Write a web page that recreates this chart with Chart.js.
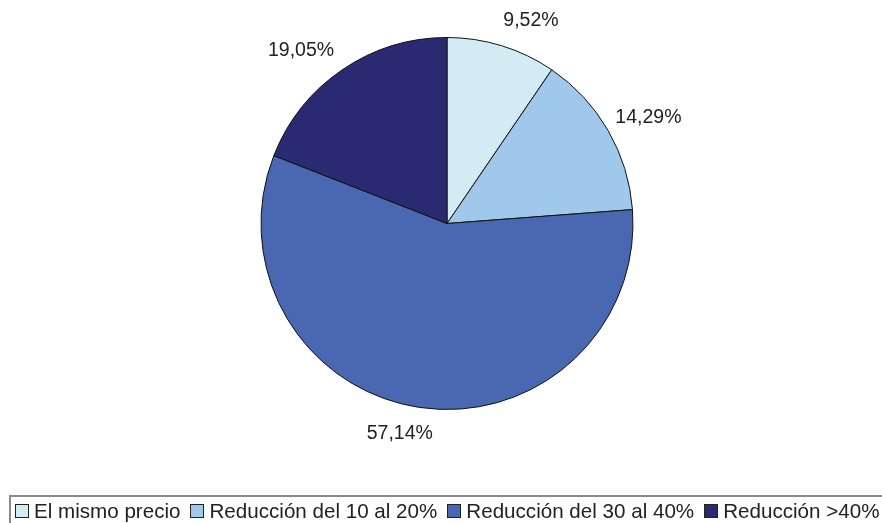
<!DOCTYPE html>
<html>
<head>
<meta charset="utf-8">
<script src="https://cdn.jsdelivr.net/npm/chart.js@4/dist/chart.umd.min.js"></script>
<style>
  html, body { margin: 0; padding: 0; background: #fff; }
  #wrap { position: relative; width: 882px; height: 523px; overflow: hidden; }
  #legend {
    position: absolute; left: 9px; top: 495px; width: 900px; height: 40px;
    border-top: 2px solid #8a8a8a; border-left: 2px solid #8a8a8a;
    font-family: "Liberation Sans", Arial, sans-serif; font-size: 20.6px; color: #222;
    display: flex; align-items: center; padding-left: 4px; box-sizing: border-box;
    padding-bottom: 11px;
  }
  .item { display: flex; align-items: center; margin-right: 10px; white-space: nowrap; }
  .box { width: 12px; height: 12px; border: 1px solid #222; margin-right: 5px; }
</style>
</head>
<body>
<div id="wrap">
  <canvas id="pieChart" width="882" height="523"></canvas>
  <div id="legend"></div>
</div>
<script>
const categories = ['El mismo precio', 'Reducción del 10 al 20%', 'Reducción del 30 al 40%', 'Reducción >40%'];
const percentValues = [9.52, 14.29, 57.14, 19.05];
const sliceColors = ['#D3EBF3', '#A0C8EA', '#4A68B2', '#292A72'];

// Ajuste fino de las etiquetas (estilo, no datos)
const labelNudgeX = [16, -3, -12, -13];
const labelNudgeY = [0, 0, 0, 2];

// Etiquetas de porcentaje fuera de cada sector
const outsideLabels = {
    id: 'outsideLabels',
    afterDatasetsDraw(chart) {
        const ctx = chart.ctx;
        const meta = chart.getDatasetMeta(0);
        ctx.save();
        ctx.font = '19.5px "Liberation Sans", Arial, sans-serif';
        ctx.fillStyle = '#222';
        ctx.textAlign = 'center';
        ctx.textBaseline = 'middle';
        meta.data.forEach((arc, i) => {
            const p = arc.getProps(['x', 'y', 'startAngle', 'endAngle', 'outerRadius'], true);
            const mid = (p.startAngle + p.endAngle) / 2;
            const text = percentValues[i].toFixed(2).replace('.', ',') + '%';
            const w = ctx.measureText(text).width;
            const cos = Math.cos(mid), sin = Math.sin(mid);
            const d = p.outerRadius + 17;
            const x = p.x + cos * d + cos * w / 2 + labelNudgeX[i];
            const y = p.y + sin * d + sin * 9 + labelNudgeY[i];
            ctx.fillText(text, x, y);
        });
        ctx.restore();
    }
};

const ctx = document.getElementById('pieChart');
const chart = new Chart(ctx, {
    type: 'pie',
    data: {
        labels: categories,
        datasets: [{
            data: percentValues,
            backgroundColor: sliceColors,
            borderColor: '#111',
            borderWidth: 1
        }]
    },
    options: {
        responsive: false,
        animation: false,
        layout: {
            padding: { top: 37, bottom: 113, left: 12, right: 0 }
        },
        plugins: {
            legend: { display: false },
            tooltip: { enabled: false }
        }
    },
    plugins: [outsideLabels]
});

// Leyenda HTML a partir de las etiquetas del gráfico
const legendEl = document.getElementById('legend');
chart.options.plugins.legend.labels.generateLabels(chart).forEach(item => {
    const div = document.createElement('div');
    div.className = 'item';
    const box = document.createElement('span');
    box.className = 'box';
    box.style.background = item.fillStyle;
    const txt = document.createElement('span');
    txt.textContent = item.text;
    div.appendChild(box);
    div.appendChild(txt);
    legendEl.appendChild(div);
});
</script>
</body>
</html>
